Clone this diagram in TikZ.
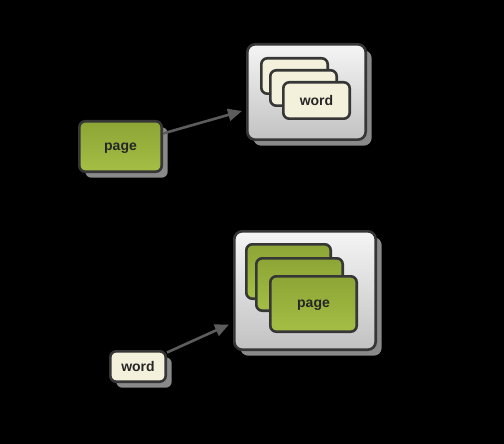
\documentclass[tikz,border=0pt]{standalone}
\usepackage{fontspec}
\setmainfont{Liberation Sans}
\usetikzlibrary{arrows.meta,calc}
\definecolor{bordc}{HTML}{363636}
\definecolor{shadc}{HTML}{8A8A8A}
\definecolor{arrc}{HTML}{5C5C5C}
\definecolor{gtop}{HTML}{8DA535}
\definecolor{gbot}{HTML}{A4BE45}
\definecolor{cream}{HTML}{F3F1DC}
\begin{document}
\begin{tikzpicture}[x=1pt,y=-1pt,
  shad/.style={preaction={fill=shadc,transform canvas={xshift=6pt,yshift=-6pt}}},
  base/.style={draw=bordc,line width=2.6pt,rounded corners=6pt,anchor=north west,
    inner sep=0pt,text depth=0pt,font=\fontsize{14}{16}\selectfont\bfseries,text=black!85},
  pagebox/.style={base,top color=gtop,bottom color=gbot},
  wordbox/.style={base,fill=cream},
  contbox/.style={base,rounded corners=8pt,top color=white!96!black,bottom color=black!24},
  arr/.style={draw=arrc,line width=2.6pt,-{Triangle[length=14pt,width=12pt]}}]
\fill[black] (0,0) rectangle (504,444);
\useasboundingbox (0,0) rectangle (504,444);
% top group
\node[pagebox,shad,minimum width=82.4pt,minimum height=50.4pt] (pg1) at (78,120) {page};
\node[contbox,shad,minimum width=118.4pt,minimum height=95.4pt] (c1) at (246,43) {};
\node[wordbox,minimum width=66.4pt,minimum height=35.4pt] (w1a) at (260,57) {};
\node[wordbox,minimum width=66.4pt,minimum height=35.4pt] (w1b) at (269,69) {};
\node[wordbox,minimum width=66.4pt,minimum height=36.4pt] (w1c) at (282,81) {word};
\draw[arr] ([shift={(0,-13)}]pg1.east) -- ([shift={(-4,19)}]c1.west);
% bottom group
\node[contbox,shad,minimum width=141.4pt,minimum height=118.4pt] (c2) at (233,230) {};
\node[pagebox,minimum width=84.4pt,minimum height=54.4pt] (p2a) at (245,243) {};
\node[pagebox,minimum width=86.4pt,minimum height=52.4pt] (p2b) at (255,257) {};
\node[pagebox,minimum width=86.4pt,minimum height=55.4pt] (p2c) at (269,275) {page};
\node[wordbox,shad,minimum width=55.4pt,minimum height=30.4pt] (w2) at (109,350) {word};
\draw[arr] ([shift={(0,-14)}]w2.east) -- ([shift={(-4,34)}]c2.west);
\end{tikzpicture}
\end{document}
